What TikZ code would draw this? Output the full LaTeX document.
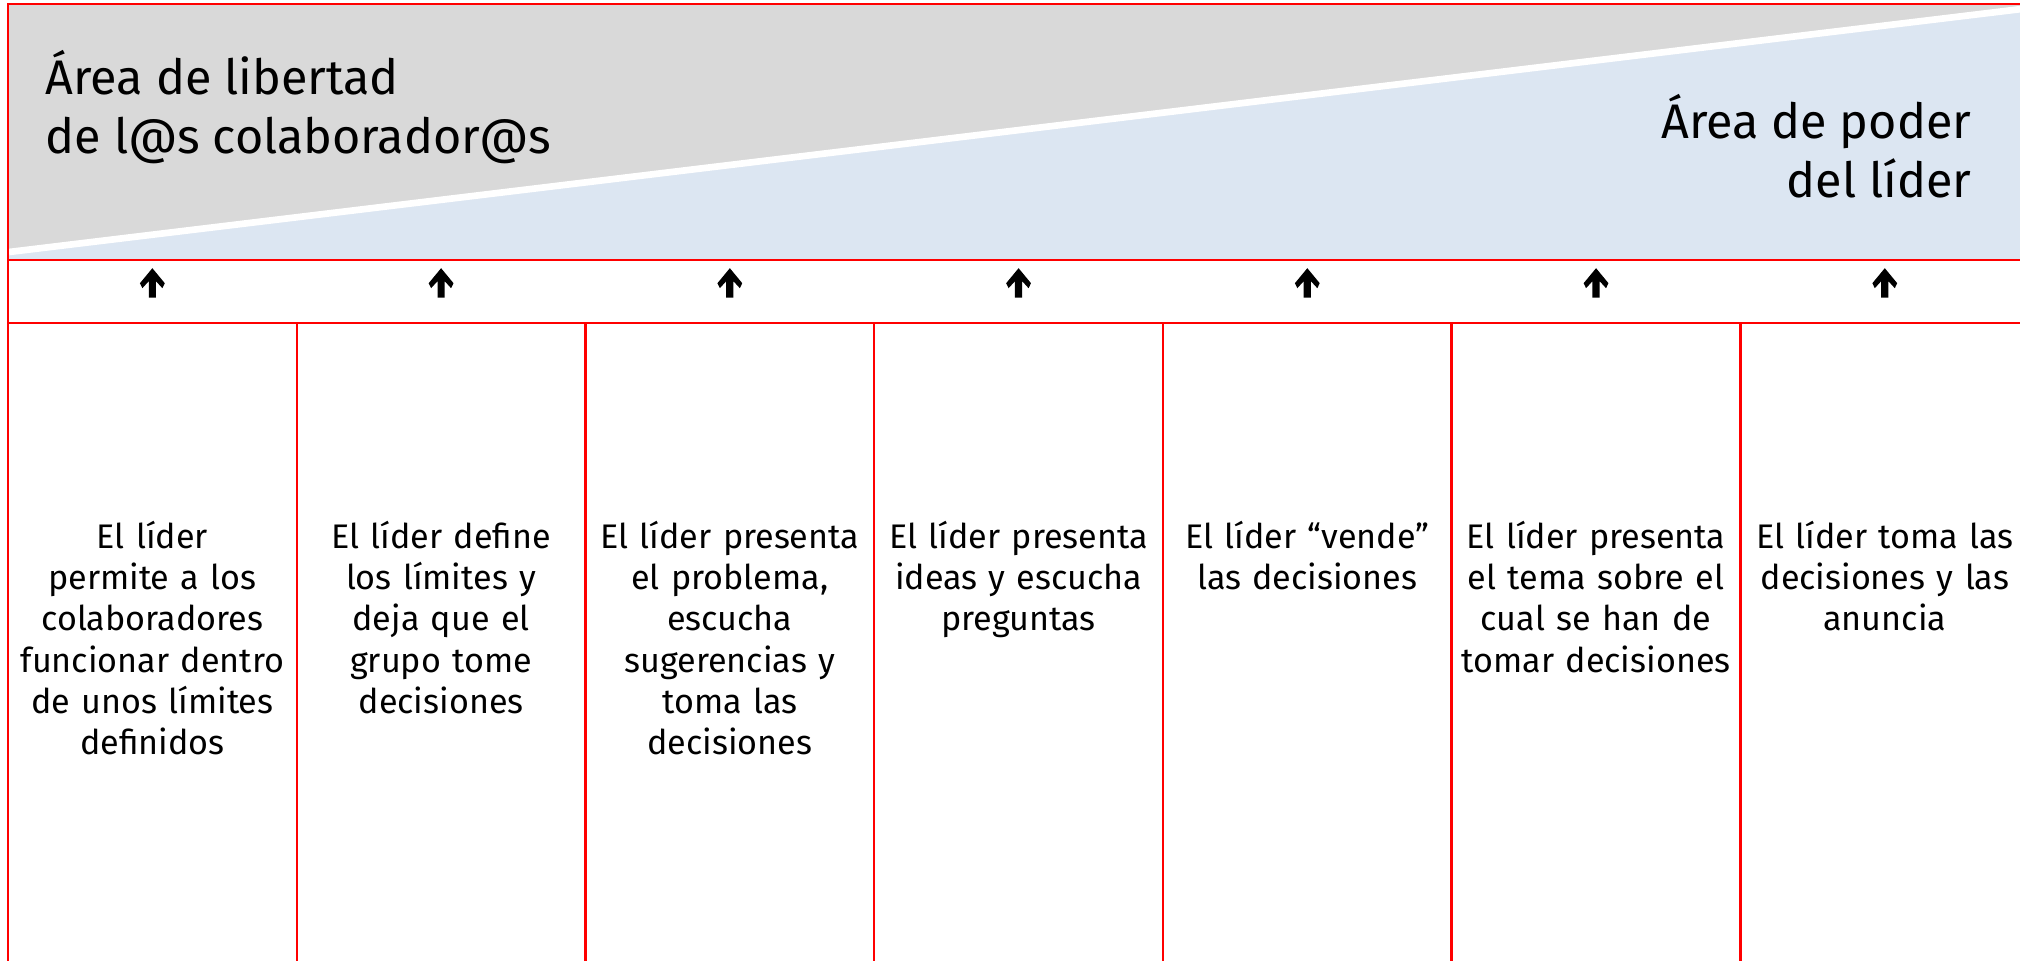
\documentclass[tikz,border=0pt]{standalone}
\usepackage{fontspec}
\setmainfont{Fira Sans}
\usetikzlibrary{calc,positioning}
\definecolor{areagray}{HTML}{D9D9D9}
\definecolor{areablue}{HTML}{DCE6F2}
\definecolor{tablered}{HTML}{FF0000}

\begin{document}
\begin{tikzpicture}[x=0.01cm,y=-0.01cm,
    cell/.style={draw=tablered,line width=0.7pt,outer sep=0pt,inner sep=0pt,
      minimum width=2.8857cm},
    areatext/.style={inner sep=0pt,font=\fontsize{13.8}{16.6}\selectfont},
    desc/.style={inner sep=0pt,anchor=base,text width=2.85cm,align=center,
      font=\fontsize{9.7}{11.75}\selectfont},
    uparrow/.pic={\fill (0,0) -- (12.4,15) -- (10,20) -- (3.6,13) -- (3.6,29.5)
      -- (-3.6,29.5) -- (-3.6,13) -- (-10,20) -- (-12.4,15) -- cycle;},
    node distance=0pt]
  \useasboundingbox (0,0) rectangle (2020,960);
  \clip (0,0) rectangle (2020,960);

  % the two areas
  \fill[areagray] (9,5) rectangle (2020,259);
  \fill[areablue] (9,252) -- (2030,8) -- (2030,259) -- (9,259) -- cycle;
  \draw[white,line width=1.9pt] (9,252) -- (2030,8);

  % base = last line here
  \node[areatext,anchor=base west,align=left] (libertad) at (45,153)
    {Área de libertad\\de l@s colaborador@s};
  \node[areatext,anchor=base east,align=right] (poder) at (1972,197)
    {Área de poder\\del líder};

  % table
  \node[cell,anchor=north west,minimum width=20.2cm,minimum height=2.56cm] (head) at (8,4) {};
  \node[cell,below=of head,minimum width=20.2cm,minimum height=0.63cm] (arrows) {};
  \node[cell,anchor=north west,minimum height=7cm] (c1) at (arrows.south west) {};
  \foreach \i [remember=\i as \last (initially 1)] in {2,...,7}
    \node[cell,minimum height=7cm,right=of c\last] (c\i) {};

  \foreach \i in {1,...,7}
    \pic at ($(c\i.north)+(0,-55)$) {uparrow};

  \foreach \i/\txt in {
      1/{El líder\\permite a los\\colaboradores\\funcionar dentro\\de unos límites\\definidos},
      2/{El líder define\\los límites y\\deja que el\\grupo tome\\decisiones},
      3/{El líder presenta\\el problema,\\escucha\\sugerencias y\\toma las\\decisiones},
      4/{El líder presenta\\ideas y escucha\\preguntas},
      5/{El líder “vende”\\las decisiones},
      6/{El líder presenta\\el tema sobre el\\cual se han de\\tomar decisiones},
      7/{El líder toma las\\decisiones y las\\anuncia}}
    \node[desc] (d\i) at ($(c\i.north)+(0,225)$) {\txt};
\end{tikzpicture}
\end{document}
